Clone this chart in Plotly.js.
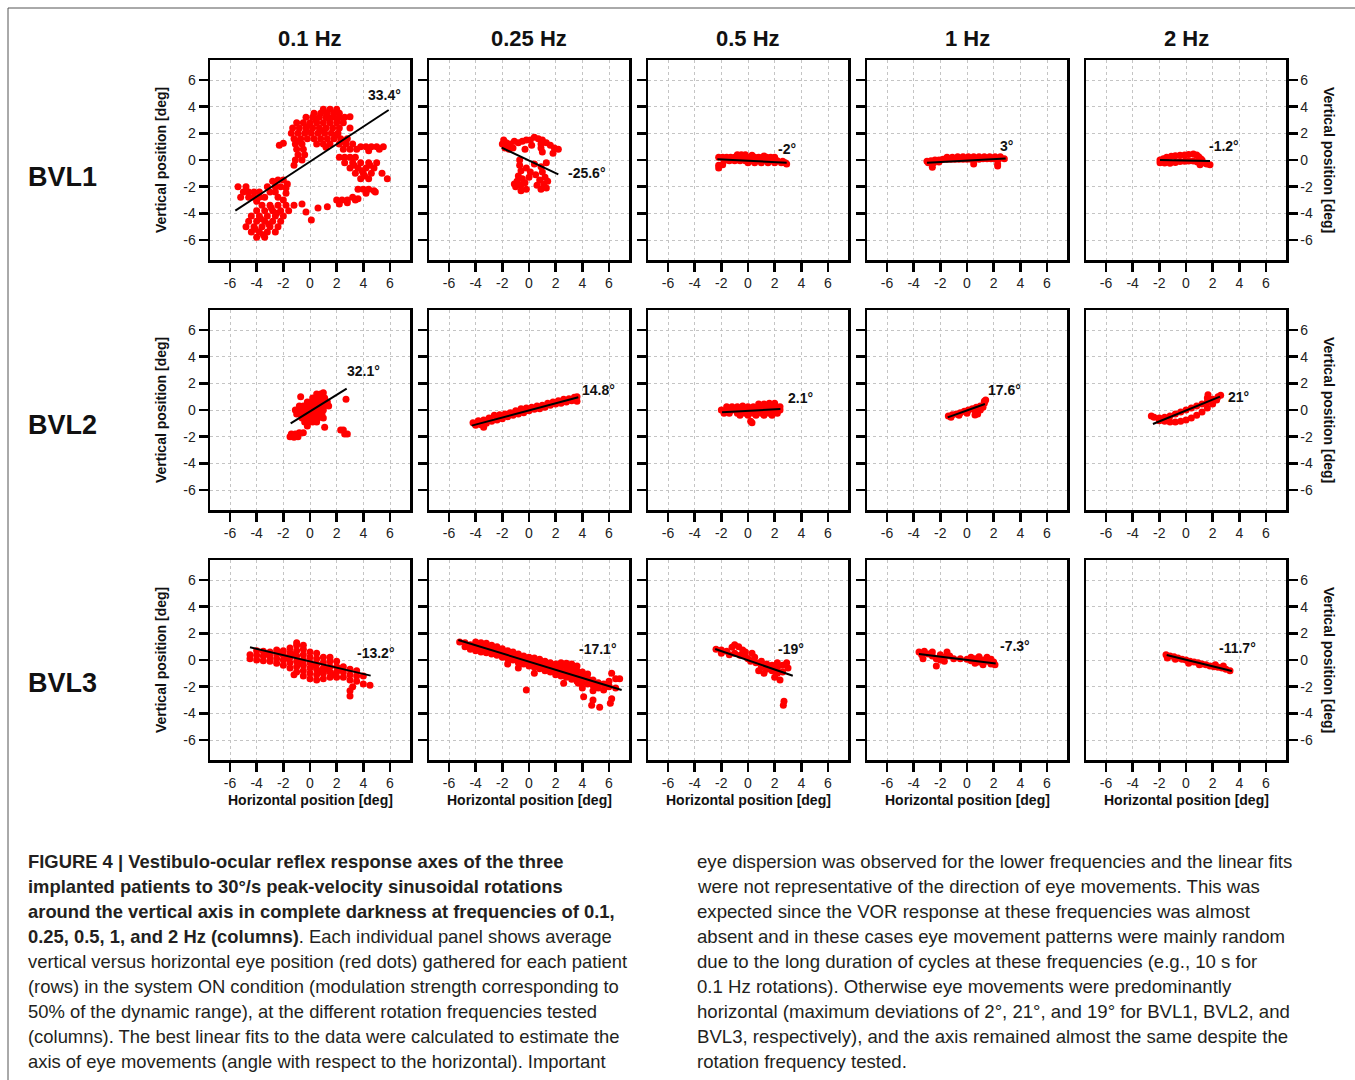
<!DOCTYPE html>
<html>
<head>
<meta charset="utf-8">
<script src="https://cdn.plot.ly/plotly-3.0.1.min.js"></script>
<style>html,body{margin:0;padding:0;background:#fff;}#chart{width:1355px;height:1080px;}</style>
</head>
<body>
<div id="chart"></div>
<script>
// ---------- DATA ----------
const frequencies = ['0.1 Hz', '0.25 Hz', '0.5 Hz', '1 Hz', '2 Hz'];
const patients = ['BVL1', 'BVL2', 'BVL3'];
const tickValues = [-6, -4, -2, 0, 2, 4, 6];
const tickLabels = ['-6', '-4', '-2', '0', '2', '4', '6'];

// eye positions [horizontal, vertical] in deg
const bvl1_01 = [[1.0,3.8],[1.5,3.8],[2.0,3.8],[0.3,3.5],[0.8,3.5],[1.3,3.5],[1.8,3.5],[2.2,3.5],
 [-0.3,3.2],[0.2,3.2],[0.7,3.2],[1.2,3.2],[1.7,3.2],[2.2,3.2],[2.6,3.2],[3.0,3.25],
 [-1.0,2.8],[-0.5,2.8],[0,2.8],[0.5,2.8],[1.0,2.8],[1.5,2.8],[2.0,2.8],[2.5,2.8],
 [-1.3,2.4],[-0.8,2.4],[-0.3,2.4],[0.2,2.4],[0.7,2.4],[1.2,2.4],[1.7,2.4],[2.2,2.4],[3.0,2.4],
 [-1.4,2.0],[-0.9,2.0],[-0.4,2.0],[0.1,2.0],[0.6,2.0],[1.1,2.0],[1.6,2.0],[2.1,2.0],
 [-1.2,1.6],[-0.7,1.6],[-0.2,1.6],[0.3,1.6],[0.8,1.6],[1.3,1.6],[1.8,1.6],[2.3,1.6],[2.8,1.6],
 [-1.1,1.2],[-0.6,1.2],[0.5,1.2],[1.0,1.2],[1.5,1.2],[2.2,1.2],[2.7,1.2],[3.2,1.2],
 [-1.0,0.8],[-0.5,0.8],[2.5,0.8],[3.0,0.8],[3.5,0.8],[-0.9,0.4],[-0.4,0.4],[-1.1,0.0],[-0.6,0.0],[-1.2,-0.4],
 [0.45,3.0],[1.45,3.05],[-0.05,2.6],[0.95,2.2],[1.9,1.85],[2.45,1.4],[-0.95,1.4],[1.2,0.95],[-0.25,2.15],[2.05,3.0],
 [-2.0,1.25],[-2.3,1.1],[3.8,1.0],[4.2,1.0],[4.6,1.0],[5.0,1.0],[5.5,1.0],[4.4,0.7],[5.2,0.8],[5.8,-1.4],
 [2.2,0.2],[2.6,0.2],[3.0,0.2],[3.4,0.2],[2.6,-0.2],[3.2,-0.2],[3.8,-0.2],[4.4,-0.2],[5.0,-0.2],
 [3.0,-0.6],[3.6,-0.6],[4.2,-0.6],[4.8,-0.6],[3.4,-1.0],[4.0,-1.0],[4.6,-1.0],[5.4,-1.0],[3.8,-1.4],[4.4,-1.4],
 [3.3,-0.4],[3.9,-0.8],[4.5,-0.4],[4.1,-1.2],
 [3.6,-2.2],[4.0,-2.2],[4.4,-2.2],[4.8,-2.3],[4.2,-2.5],[4.9,-2.4],
 [3.2,-2.8],[3.6,-2.9],[2.0,-3.0],[2.4,-3.0],[2.8,-3.0],[3.4,-3.0],[2.2,-3.3],[2.8,-3.2],[1.3,-3.5],
 [-2.8,-1.6],[-2.4,-1.5],[-2.0,-1.5],[-1.7,-1.8],[-5.4,-2.0],[-4.8,-2.0],[-3.2,-2.0],[-2.6,-2.0],[-2.2,-2.0],[-1.8,-2.1],
 [-5.0,-2.4],[-4.6,-2.4],[-4.2,-2.4],[-3.8,-2.4],[-3.0,-2.4],[-2.6,-2.4],
 [-4.6,-2.8],[-4.2,-2.8],[-3.8,-2.8],[-3.4,-2.8],[-2.4,-2.8],[-4.0,-3.1],[-2.0,-3.0],[-1.8,-2.5],[-5.2,-2.8],
 [-3.6,-3.4],[-3.0,-3.4],[-2.4,-3.4],[-1.8,-3.4],[-1.2,-3.4],[-0.6,-3.3],
 [-4.0,-3.8],[-3.4,-3.8],[-2.8,-3.8],[-2.2,-3.8],[-1.6,-3.8],
 [-4.4,-4.2],[-3.8,-4.2],[-3.2,-4.2],[-2.6,-4.2],[-2.0,-4.2],
 [-4.6,-4.6],[-4.0,-4.6],[-3.4,-4.6],[-2.8,-4.6],[-2.2,-4.6],
 [-4.8,-5.0],[-4.2,-5.0],[-3.6,-5.0],[-3.0,-5.0],[-2.4,-5.0],
 [-4.4,-5.4],[-3.8,-5.4],[-3.2,-5.4],[-2.6,-5.4],[-4.0,-5.8],[-3.4,-5.8],
 [-3.7,-4.4],[-3.1,-4.8],[-2.5,-4.0],[-4.1,-5.2],[-3.5,-5.6],[-2.9,-3.6],
 [-0.3,-3.9],[0.1,-4.5],[0.6,-3.6]];
const bvl1_025 = [[-2.0,1.2],[-1.7,1.3],[-1.4,1.2],[-1.1,1.4],[-0.8,1.3],[-0.5,1.4],[-0.2,1.5],[0.1,1.5],[0.4,1.7],
 [0.7,1.6],[1.0,1.5],[1.3,1.3],[1.6,1.1],[1.9,0.9],[2.2,0.8],[-1.8,0.9],[-1.5,0.8],[-1.2,0.9],[0.2,1.1],[0.9,1.2],
 [1.0,0.6],[0.9,0.9],[-0.3,0.8],[1.8,0.5],[-1.9,1.5],
 [-0.7,0.0],[-0.7,-0.4],[-0.6,-0.8],[-0.8,-1.2],[-0.5,-1.4],[-0.9,-1.6],[-0.6,-1.9],[-1.0,-2.0],[-0.3,-1.7],
 [-0.2,-2.2],[-0.6,-2.3],[0.0,-1.3],[-0.2,-0.6],[0.1,-0.9],[-1.1,-1.8],
 [0.9,-0.5],[1.0,-0.9],[1.2,-1.3],[0.8,-1.5],[1.1,-1.8],[1.3,-2.1],[0.9,-2.2],[0.6,-1.9],[0.5,-1.1],[1.4,-1.6],[0.4,-0.3],[1.3,-0.2]];
const bvl1_05 = [[-2.2,0.2],[-1.9,0.2],[-1.6,0.2],[-1.3,0.2],[-1.0,0.2],[-0.7,0.2],[-0.4,0.2],[-0.1,0.2],[0.2,0.2],[0.5,0.2],
 [0.8,0.2],[1.1,0.2],[1.4,0.2],[1.7,0.2],[2.0,0.2],[-0.8,0.4],[-0.5,0.4],[-0.2,0.4],[0.3,0.35],[1.2,0.3],
 [-1.8,-0.05],[-1.4,-0.05],[-1.0,-0.05],[-0.6,-0.05],[-0.2,-0.05],[0.2,-0.05],[0.6,-0.05],[1.0,-0.05],[1.4,-0.05],
 [1.8,-0.05],[2.2,-0.05],[2.6,-0.1],[0.0,-0.2],[0.5,-0.2],[1.0,-0.2],[1.5,-0.2],[2.0,-0.2],[2.5,-0.2],[2.8,-0.2],
 [-2.2,-0.4],[-1.9,-0.35],[2.9,-0.3],[-2.2,-0.6]];
const bvl1_1 = [[-3.0,-0.1],[-2.7,-0.05],[-2.4,0.0],[-2.1,0.0],[-1.8,0.05],[-1.5,0.05],[-1.2,0.05],[-0.9,0.05],[-0.6,0.05],
 [-0.3,0.05],[0.0,0.05],[0.3,0.05],[0.6,0.05],[0.9,0.05],[1.2,0.1],[1.5,0.1],[1.8,0.1],[2.1,0.1],[2.4,0.1],[2.8,0.1],
 [-1.5,0.2],[-1.1,0.2],[-0.7,0.25],[-0.3,0.25],[0.1,0.25],[0.5,0.25],[0.9,0.25],[1.3,0.25],[1.7,0.25],[2.1,0.25],[2.5,0.25],
 [-2.9,-0.2],[-2.5,-0.2],[-2.1,-0.15],[0.5,-0.3],[-2.6,-0.55],[2.3,-0.45],[2.3,-0.3]];
const bvl1_2 = [[-1.95,0.0],[-1.7,0.1],[-1.45,0.2],[-1.1,0.28],[-0.8,0.32],[-0.45,0.35],[-0.1,0.38],[0.2,0.42],[0.55,0.45],
 [0.8,0.38],[0.95,0.25],[1.1,0.1],[1.2,0.0],[1.3,-0.2],[1.55,-0.3],[1.8,-0.35],
 [-1.95,-0.2],[-1.6,-0.22],[-1.2,-0.25],[-0.8,-0.18],[-0.45,-0.12],[-0.1,-0.1],[0.2,-0.08],[0.55,-0.07],[0.85,-0.15],[1.05,-0.35]];
const bvl2_01 = [[0.5,1.2],[0.8,1.2],[1.0,1.3],[0.2,0.9],[0.5,0.9],[0.8,0.9],[1.1,0.9],[-0.7,1.0],
 [-0.2,0.6],[0.1,0.6],[0.4,0.6],[0.7,0.6],[1.0,0.6],[1.3,0.6],
 [-0.8,0.3],[-0.5,0.3],[-0.2,0.3],[0.1,0.3],[0.4,0.3],[0.7,0.3],[1.0,0.3],[1.4,0.3],
 [-1.1,0.0],[-0.8,0.0],[-0.5,0.0],[-0.2,0.0],[0.1,0.0],[0.4,0.0],[0.7,0.0],[1.0,0.0],
 [-1.0,-0.3],[-0.7,-0.3],[-0.4,-0.3],[-0.1,-0.3],[0.2,-0.3],[0.5,-0.3],[0.9,-0.3],
 [-0.6,-0.6],[-0.3,-0.6],[0.0,-0.6],[0.3,-0.6],[0.6,-0.6],[1.0,-0.6],[-0.4,-0.9],[-0.1,-0.9],[0.2,-0.9],[0.5,-0.9],
 [-0.2,-1.2],[1.1,-1.3],[-1.4,-1.8],[-1.1,-1.8],[-0.8,-1.7],[-0.5,-1.7],[-1.5,-2.0],[-1.2,-2.05],[-0.9,-2.0],
 [2.3,-1.5],[2.5,-1.5],[2.6,-1.8],[2.8,-1.8],[2.7,0.8]];
const bvl2_025 = [[-4.2,-0.95],[-3.8,-0.8],[-3.4,-0.75],[-3.0,-0.6],[-2.6,-0.4],[-2.2,-0.35],[-1.8,-0.3],[-1.4,-0.2],
 [-1.0,-0.05],[-0.6,0.1],[-0.2,0.15],[0.2,0.2],[0.6,0.3],[1.0,0.35],[1.4,0.5],[1.8,0.6],[2.2,0.7],[2.6,0.8],[3.0,0.85],
 [3.4,0.95],[3.6,1.0],[-4.0,-1.15],[-3.6,-1.1],[-3.2,-1.0],[-2.8,-0.85],[-2.4,-0.75],[-2.0,-0.65],[-1.6,-0.5],
 [-1.2,-0.4],[-0.8,-0.3],[-0.4,-0.2],[0.0,-0.05],[0.4,0.05],[0.8,0.1],[1.2,0.2],[1.6,0.35],[2.0,0.45],[2.4,0.5],
 [2.8,0.6],[3.2,0.7],[3.6,0.65],[-3.4,-1.3]];
const bvl2_05 = [[0.8,0.45],[1.2,0.45],[1.6,0.5],[2.0,0.5],[-1.6,0.25],[-1.2,0.25],[-0.8,0.25],[-0.4,0.3],[0.0,0.25],
 [0.4,0.25],[0.8,0.25],[1.2,0.25],[1.6,0.25],[2.0,0.25],[2.4,0.25],[-2.0,0.0],[-1.6,0.0],[-1.2,0.0],[-0.8,0.0],
 [-0.4,0.0],[0,0.0],[0.4,0.0],[0.8,0.0],[1.2,0.0],[1.6,0.0],[2.0,0.0],[2.4,0.0],[-1.8,-0.25],[-1.4,-0.25],
 [-0.8,-0.25],[-0.2,-0.25],[0.4,-0.25],[1.0,-0.25],[1.6,-0.25],[2.2,-0.25],[-0.6,-0.4],[0.0,-0.4],[0.6,-0.4],
 [1.2,-0.4],[1.8,-0.4],[0.2,-0.85],[0.3,-0.95]];
const bvl2_1 = [[-1.4,-0.45],[-1.1,-0.35],[-0.8,-0.3],[-0.5,-0.2],[-0.2,-0.1],[0.1,0.0],[0.4,0.1],[0.7,0.2],[1.0,0.3],
 [1.3,0.5],[1.4,0.75],[1.3,0.65],[-1.2,-0.55],[-0.6,-0.4],[0,-0.25],[0.6,-0.1],[1.0,0.0],[0.8,-0.3],[1.2,0.2],[0.6,-0.37]];
const bvl2_2 = [[-2.4,-0.55],[-2.0,-0.6],[-1.6,-0.55],[-1.2,-0.45],[-0.8,-0.3],[-0.4,-0.15],[0.0,0.0],[0.4,0.15],
 [0.8,0.3],[1.2,0.45],[1.6,0.6],[2.0,0.8],[2.4,1.0],[2.6,1.1],[1.6,0.9],[1.65,1.15],
 [-2.0,-0.8],[-1.6,-0.85],[-1.2,-0.9],[-0.8,-0.9],[-0.4,-0.85],[0.0,-0.75],[0.4,-0.6],[0.8,-0.4],[1.2,-0.15],
 [1.6,0.15],[2.0,0.45],[2.3,0.75],[-2.6,-0.45]];
const bvl3_01 = [[-4.5,0.1],[-4.5,0.4],[-4.0,0.0],[-4.0,0.35],[-4.0,0.7],[-3.5,-0.05],[-3.5,0.3],[-3.5,0.65],
 [-3.0,-0.1],[-3.0,0.25],[-3.0,0.6],[-2.5,-0.25],[-2.5,0.1],[-2.5,0.45],[-2.5,0.75],[-2.0,-0.4],[-2.0,0.0],[-2.0,0.35],
 [-2.0,0.7],[-1.5,-0.6],[-1.5,-0.2],[-1.5,0.2],[-1.5,0.55],[-1.5,0.9],[-1.0,-0.9],[-1.0,-0.5],[-1.0,-0.1],[-1.0,0.3],
 [-1.0,0.7],[-1.0,1.1],[-1.0,1.3],[-0.5,-1.2],[-0.5,-0.8],[-0.5,-0.4],[-0.5,0.0],[-0.5,0.4],[-0.5,0.8],[-0.5,1.1],
 [0.0,-1.4],[0.0,-1.0],[0.0,-0.6],[0.0,-0.2],[0.0,0.2],[0.0,0.6],[0.5,-1.5],[0.5,-1.1],[0.5,-0.7],[0.5,-0.3],
 [0.5,0.1],[0.5,0.5],[1.0,-1.4],[1.0,-1.0],[1.0,-0.6],[1.0,-0.2],[1.0,0.2],[1.5,-1.3],[1.5,-0.9],[1.5,-0.5],
 [1.5,-0.1],[1.5,0.2],[2.0,-1.3],[2.0,-0.9],[2.0,-0.5],[2.0,-0.1],[2.5,-1.3],[2.5,-0.9],[2.5,-0.5],
 [-3.25,0.45],[-2.25,0.55],[-1.25,0.4],[-0.75,-0.2],[0.25,-0.4],[0.75,-0.9],[1.25,-0.7],[1.75,-1.1],[2.25,-0.7],[-1.75,0.15],
 [3.0,-1.5],[3.0,-1.1],[3.0,-0.7],[3.0,-2.3],[3.0,-2.7],[3.5,-1.6],[3.5,-1.2],[3.5,-0.8],[4.0,-1.8],[4.0,-1.2],
 [4.5,-1.9],[3.2,-2.0],[-1.2,-1.1]];
const bvl3_025 = [[-5.2,1.35],[-4.8,1.0],[-4.8,1.3],[-4.4,0.8],[-4.4,1.15],[-4.0,0.7],[-4.0,1.1],[-4.0,1.35],
 [-3.6,0.6],[-3.6,0.95],[-3.6,1.3],[-3.2,0.55],[-3.2,0.9],[-3.2,1.25],[-2.8,0.45],[-2.8,0.8],[-2.8,1.1],
 [-2.4,0.35],[-2.4,0.7],[-2.4,1.0],[-2.0,0.2],[-2.0,0.55],[-2.0,0.85],[-1.6,0.1],[-1.6,0.45],[-1.6,0.7],[-1.6,-0.3],
 [-1.2,0.0],[-1.2,0.3],[-1.2,0.6],[-0.8,-0.2],[-0.8,0.15],[-0.8,0.45],[-0.8,-0.6],[-0.4,-0.3],[-0.4,0.0],[-0.4,0.3],
 [0.0,-0.45],[0.0,-0.1],[0.0,0.2],[0.4,-0.55],[0.4,-0.2],[0.4,0.15],[0.4,-1.0],[0.8,-0.65],[0.8,-0.3],[0.8,0.05],
 [1.2,-0.8],[1.2,-0.45],[1.2,-0.1],[1.6,-0.9],[1.6,-0.55],[1.6,-0.2],[2.0,-1.1],[2.0,-0.7],[2.0,-0.3],
 [2.4,-1.2],[2.4,-0.85],[2.4,-0.45],[2.4,-0.2],[2.8,-1.3],[2.8,-0.95],[2.8,-0.55],[2.8,-0.25],
 [3.2,-1.45],[3.2,-1.05],[3.2,-0.65],[3.2,-0.3],[3.6,-1.6],[3.6,-1.2],[3.6,-0.8],[3.6,-0.45],
 [4.0,-1.7],[4.0,-1.3],[4.0,-0.9],[4.0,-2.1],[4.4,-1.8],[4.4,-1.4],[4.4,-1.05],[4.8,-1.9],[4.8,-1.5],[4.8,-2.3],
 [5.2,-1.7],[5.2,-2.1],[5.6,-1.8],[6.0,-2.0],[6.0,-1.6],[6.5,-1.4],[6.5,-2.1],
 [4.1,-2.75],[4.7,-3.4],[5.3,-3.55],[4.8,-3.0],[6.1,-3.25],[6.2,-2.9],[5.6,-2.25],[6.2,-1.0],[6.8,-1.4],[6.0,-1.95],
 [-0.2,-2.25],[2.6,-1.75],[3.7,-1.75]];
const bvl3_05 = [[-2.4,0.8],[-2.0,0.75],[-1.6,0.65],[-1.2,0.95],[-1.0,1.15],[-0.7,1.0],[-0.4,0.75],[-1.4,0.4],[-1.0,0.5],
 [-0.6,0.35],[-0.2,0.3],[0.0,0.1],[0.3,0.5],[0.2,-0.1],[0.6,-0.2],[0.5,0.2],[1.0,-0.1],[1.0,-0.5],[1.4,-0.3],[1.4,-0.7],
 [1.8,-0.4],[1.8,-0.8],[2.2,-0.2],[2.2,-0.6],[2.2,-1.0],[2.0,-1.3],[2.4,-1.5],[2.6,-0.9],[2.6,-0.4],[2.9,-0.2],
 [3.0,-0.6],[0.8,-0.8],[1.2,-1.0],[2.7,-3.1],[2.65,-3.4],[-2.0,0.5],[-0.2,0.6]];
const bvl3_1 = [[-3.6,0.6],[-3.4,0.4],[-3.2,0.65],[-3.3,0.1],[-2.9,0.45],[-2.6,0.3],[-2.6,0.6],[-2.3,0.1],[-2.3,-0.45],
 [-2.0,0.4],[-2.0,0.0],[-1.7,0.2],[-1.5,0.6],[-1.3,0.3],[-1.0,0.1],[-0.5,0.1],[0.0,0.05],[0.3,-0.05],[0.6,0.1],
 [0.6,-0.25],[0.9,0.25],[0.9,-0.15],[1.2,0.0],[1.2,-0.35],[1.5,-0.1],[1.5,0.2],[1.8,-0.3],[2.0,-0.15],[1.8,0.05],
 [2.1,-0.35],[-1.7,-0.1],[0.3,0.2]];
const bvl3_2 = [[-1.5,0.4],[-1.2,0.3],[-0.9,0.25],[-0.6,0.15],[-0.3,0.05],[0.0,0.0],[0.3,-0.1],[0.6,-0.15],[0.9,-0.2],
 [1.2,-0.3],[1.5,-0.35],[1.8,-0.45],[2.1,-0.5],[2.4,-0.55],[2.7,-0.6],[3.0,-0.7],[3.3,-0.8],[-1.4,0.15],[-0.8,0.05],
 [0.2,-0.25],[1.0,-0.35],[2.2,-0.35],[2.8,-0.45]];

// best linear fits: [[x start, y start], [x end, y end]]
const fit_bvl1 = [[[-5.6,-3.8],[5.9,3.75]], [[-2.05,0.93],[2.2,-1.08]], [[-2.3,0.05],[2.9,-0.2]], [[-3.0,-0.2],[2.9,0.12]], [[-1.95,0.0],[1.8,-0.08]]];
const fit_bvl2 = [[[-1.45,-1.0],[2.75,1.6]], [[-4.3,-1.17],[3.7,0.95]], [[-1.95,-0.17],[2.43,0.07]], [[-1.45,-0.55],[1.34,0.45]], [[-2.48,-1.05],[2.55,1.0]]];
const fit_bvl3 = [[[-4.5,0.95],[4.55,-1.17]], [[-5.3,1.5],[6.95,-2.25]], [[-2.46,0.83],[3.36,-1.18]], [[-3.6,0.45],[2.15,-0.27]], [[-1.45,0.37],[3.44,-0.83]]];

// fitted axis angles (deg)
const angles_bvl1 = [33.4, -25.6, -2, 3, -1.2];
const angles_bvl2 = [32.1, 14.8, 2.1, 17.6, 21];
const angles_bvl3 = [-13.2, -17.1, -19, -7.3, -11.7];

// caption
const captionLeft = [
 '<b>FIGURE 4 | Vestibulo-ocular reflex response axes of the three</b>',
 '<b>implanted patients to 30°/s peak-velocity sinusoidal rotations</b>',
 '<b>around the vertical axis in complete darkness at frequencies of 0.1,</b>',
 '<b>0.25, 0.5, 1, and 2 Hz (columns)</b>. Each individual panel shows average',
 'vertical versus horizontal eye position (red dots) gathered for each patient',
 '(rows) in the system ON condition (modulation strength corresponding to',
 '50% of the dynamic range), at the different rotation frequencies tested',
 '(columns). The best linear fits to the data were calculated to estimate the',
 'axis of eye movements (angle with respect to the horizontal). Important'];
const captionRight = [
 'eye dispersion was observed for the lower frequencies and the linear fits',
 'were not representative of the direction of eye movements. This was',
 'expected since the VOR response at these frequencies was almost',
 'absent and in these cases eye movement patterns were mainly random',
 'due to the long duration of cycles at these frequencies (e.g., 10 s for',
 '0.1 Hz rotations). Otherwise eye movements were predominantly',
 'horizontal (maximum deviations of 2°, 21°, and 19° for BVL1, BVL2, and',
 'BVL3, respectively), and the axis remained almost the same despite the',
 'rotation frequency tested.'];

// ---------- LAYOUT / STYLE ----------
const points = [[bvl1_01, bvl1_025, bvl1_05, bvl1_1, bvl1_2],
                [bvl2_01, bvl2_025, bvl2_05, bvl2_1, bvl2_2],
                [bvl3_01, bvl3_025, bvl3_05, bvl3_1, bvl3_2]];
const fits = [fit_bvl1, fit_bvl2, fit_bvl3];
const angles = [angles_bvl1, angles_bvl2, angles_bvl3];
// where the angle text sits (data coords of each panel)
const angleTextPos = [
 [[5.55,4.88],[4.35,-0.98],[2.93,0.83],[2.93,1.05],[2.85,1.05]],
 [[3.98,2.93],[5.18,1.5],[3.9,0.9],[2.78,1.5],[3.9,0.98]],
 [[4.95,0.53],[5.18,0.83],[3.23,0.83],[3.6,1.05],[3.83,0.9]]];

const W = 1355, H = 1080;
const colLeft = [210, 429, 648, 867, 1086];
const rowTop = [60, 310, 560];
const PW = 200, PH = 200;
const FONT = 'Liberation Sans, Arial, Helvetica, sans-serif';
const px = v => v / W;
const py = v => 1 - v / H;

const traces = [];
const layout = {
  width: W, height: H,
  margin: {l: 0, r: 0, t: 0, b: 0},
  paper_bgcolor: '#fff', plot_bgcolor: '#fff',
  showlegend: false,
  font: {family: FONT, color: '#111'},
  annotations: [], shapes: []
};

for (let r = 0; r < 3; r++) {
  for (let c = 0; c < 5; c++) {
    const k = r * 5 + c + 1;
    const s = k === 1 ? '' : String(k);
    const pts = points[r][c];
    traces.push({
      type: 'scatter', mode: 'markers',
      x: pts.map(p => p[0]), y: pts.map(p => p[1]),
      xaxis: 'x' + s, yaxis: 'y' + s,
      marker: {color: '#ff0000', size: 7, line: {width: 0}},
      hoverinfo: 'skip'
    });
    const f = fits[r][c];
    traces.push({
      type: 'scatter', mode: 'lines',
      x: f.map(p => p[0]), y: f.map(p => p[1]),
      xaxis: 'x' + s, yaxis: 'y' + s,
      line: {color: '#000', width: 2},
      hoverinfo: 'skip'
    });
    const axCommon = {
      range: [-7.5, 7.5], tickmode: 'array', tickvals: tickValues, ticktext: tickLabels,
      ticks: 'outside', ticklen: 9, tickwidth: 2.5, tickcolor: '#000',
      showline: true, mirror: true, linecolor: '#000', linewidth: 2.5,
      showgrid: true, gridcolor: '#c4c4c4', gridwidth: 1, griddash: 'dot',
      zeroline: false, fixedrange: true,
      tickfont: {family: FONT, size: 14, color: '#222'}
    };
    layout['xaxis' + s] = Object.assign({}, axCommon, {
      domain: [px(colLeft[c]), px(colLeft[c] + PW)], anchor: 'y' + s
    });
    layout['yaxis' + s] = Object.assign({}, axCommon, {
      domain: [py(rowTop[r] + PH), py(rowTop[r])], anchor: 'x' + s,
      side: c === 4 ? 'right' : 'left',
      showticklabels: c === 0 || c === 4
    });
    const a = angles[r][c];
    layout.annotations.push({
      xref: 'x' + s, yref: 'y' + s, x: angleTextPos[r][c][0], y: angleTextPos[r][c][1],
      text: '<b>' + a + '°</b>', showarrow: false,
      font: {family: FONT, size: 14, color: '#111'}
    });
  }
}

// column titles
frequencies.forEach((f, c) => {
  layout.annotations.push({xref: 'paper', yref: 'paper', x: px(colLeft[c] + PW / 2), y: py(39),
    text: '<b>' + f + '</b>', showarrow: false, xanchor: 'center', yanchor: 'middle',
    font: {family: FONT, size: 22, color: '#111'}});
});
// row labels
const rowLabelY = [177, 425, 683];
patients.forEach((p, r) => {
  layout.annotations.push({xref: 'paper', yref: 'paper', x: px(62), y: py(rowLabelY[r]),
    text: '<b>' + p + '</b>', showarrow: false, xanchor: 'center', yanchor: 'middle',
    font: {family: FONT, size: 27, color: '#111'}});
  // left y title
  layout.annotations.push({xref: 'paper', yref: 'paper', x: px(161), y: py(rowTop[r] + PH / 2),
    text: '<b>Vertical position [deg]</b>', showarrow: false, textangle: -90,
    xanchor: 'center', yanchor: 'middle', font: {family: FONT, size: 14, color: '#111'}});
  // right y title
  layout.annotations.push({xref: 'paper', yref: 'paper', x: px(1329), y: py(rowTop[r] + PH / 2),
    text: '<b>Vertical position [deg]</b>', showarrow: false, textangle: 90,
    xanchor: 'center', yanchor: 'middle', font: {family: FONT, size: 14, color: '#111'}});
});
// bottom x titles
frequencies.forEach((f, c) => {
  layout.annotations.push({xref: 'paper', yref: 'paper', x: px(colLeft[c] + PW / 2), y: py(800),
    text: '<b>Horizontal position [deg]</b>', showarrow: false, xanchor: 'center', yanchor: 'middle',
    font: {family: FONT, size: 14, color: '#111'}});
});
// caption
const capY0 = 861, capDY = 25.1;
captionLeft.forEach((t, i) => {
  layout.annotations.push({xref: 'paper', yref: 'paper', x: px(26), y: py(capY0 + i * capDY),
    text: t, showarrow: false, xanchor: 'left', yanchor: 'middle', align: 'left',
    font: {family: FONT, size: 18.4, color: '#231f20'}});
});
captionRight.forEach((t, i) => {
  layout.annotations.push({xref: 'paper', yref: 'paper', x: px(695), y: py(capY0 + i * capDY),
    text: t, showarrow: false, xanchor: 'left', yanchor: 'middle', align: 'left',
    font: {family: FONT, size: 18.6, color: '#231f20'}});
});
// frame around the figure
layout.shapes.push({type: 'rect', xref: 'paper', yref: 'paper',
  x0: px(8), x1: px(1362), y0: py(1090), y1: py(8), line: {color: '#555', width: 1}});

Plotly.newPlot('chart', traces, layout, {staticPlot: true, displayModeBar: false});
</script>
</body>
</html>
